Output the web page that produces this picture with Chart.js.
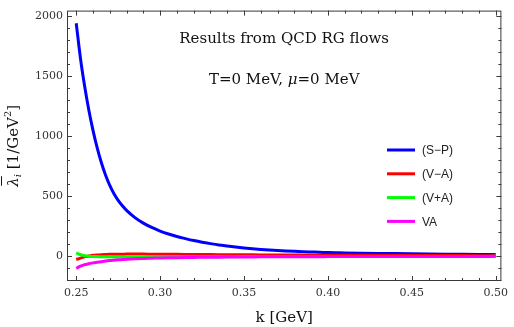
<!DOCTYPE html>
<html>
<head>
<meta charset="utf-8">
<script src="https://cdn.jsdelivr.net/npm/chart.js@4/dist/chart.umd.min.js"></script>
<style>
  html, body { margin: 0; padding: 0; background: #fff; }
  #wrap { width: 514px; height: 327px; }
</style>
</head>
<body>
<div id="wrap"><canvas id="chart-area"></canvas></div>
<script>
// k values [GeV]
var kValues = [0.250, 0.2525, 0.255, 0.2575, 0.260, 0.2625, 0.265, 0.2675, 0.270, 0.2725,
               0.275, 0.2775, 0.280, 0.285, 0.290, 0.295, 0.300, 0.305, 0.310, 0.315,
               0.320, 0.325, 0.330, 0.335, 0.340, 0.345, 0.350, 0.355, 0.360, 0.365,
               0.370, 0.375, 0.380, 0.385, 0.390, 0.395, 0.400,
               0.41, 0.42, 0.43, 0.44, 0.45, 0.46, 0.47, 0.48, 0.49, 0.50];
// (S-P)
var spValues = [1940, 1651, 1417, 1218, 1048, 902, 778, 675, 590, 520,
                465, 420, 382, 322, 276, 240, 210, 185, 164, 147,
                131, 117, 105, 94, 85, 76.5, 69, 62.5, 57, 52,
                47.7, 44, 40.8, 38, 35.7, 33.6, 30.5,
                28, 25.8, 23.8, 22, 20.3, 18.8, 17.4, 16.1, 15, 14];
// (V-A)
var vmaValues = [-27, -15, -5, 2, 8, 11, 13, 14.5, 16, 16.5,
                 17, 17.5, 18, 18, 18, 17.5, 17, 16.5, 16, 15.5,
                 15, 14.5, 14, 13.5, 13, 12.5, 12, 11.5, 11, 10.7,
                 10.4, 10, 9.7, 9.4, 9.1, 8.8, 8.5,
                 8, 7.5, 7, 6.6, 6.2, 5.9, 5.6, 5.3, 5, 4.8];
// (V+A)
var vpaValues = [27, 14, 5, 1, -2, -3, -4, -4.5, -5, -5.2,
                 -5.5, -5.5, -5.5, -5.5, -5.3, -5.1, -5, -4.8, -4.6, -4.4,
                 -4.2, -4, -3.8, -3.6, -3.4, -3.2, -3, -2.9, -2.8, -2.7,
                 -2.6, -2.5, -2.4, -2.3, -2.2, -2.1, -2,
                 -1.9, -1.8, -1.7, -1.6, -1.5, -1.4, -1.3, -1.2, -1.1, -1];
// VA
var vaValues = [-100, -83, -70, -62, -55, -50, -45, -40, -36, -33,
                -30, -27.5, -25, -21, -18, -16, -14, -12.5, -11.5, -10.5,
                -9.5, -9, -8, -7.5, -7, -6.5, -6, -5.5, -5, -4.8,
                -4.5, -4.2, -4, -3.7, -3.5, -3.3, -3,
                -2.7, -2.4, -2.2, -2, -1.8, -1.6, -1.5, -1.3, -1.2, -1];

var seriesLabels = ["(S\u2212P)", "(V\u2212A)", "(V+A)", "VA"];
var seriesColors = ["rgb(0,0,255)", "rgb(255,0,0)", "rgb(0,255,0)", "rgb(255,0,255)"];
var seriesValues = [spValues, vmaValues, vpaValues, vaValues];

var xTicks = [0.25, 0.30, 0.35, 0.40, 0.45, 0.50];
var yTicks = [0, 500, 1000, 1500, 2000];

var serif = '"DejaVu Serif", serif';
var sans = '"Liberation Sans", Arial, sans-serif';

var arr = [];
for (var s = 0; s < seriesValues.length; s++) {
  var pts = [];
  for (var i = 0; i < kValues.length; i++) {
    pts.push({x: kValues[i], y: seriesValues[s][i]});
  }
  arr.push({
    label: seriesLabels[s],
    data: pts,
    borderColor: seriesColors[s],
    backgroundColor: seriesColors[s],
    borderWidth: 3,
    pointRadius: 0,
    cubicInterpolationMode: 'monotone',
    order: seriesValues.length - s
  });
}

// 外框、刻度、文字
var framePlugin = {
  id: 'frame',
  afterDatasetsDraw: function(chart) {
    var c = chart.ctx;
    var a = chart.chartArea;
    var xs = chart.scales.x, ys = chart.scales.y;
    c.save();
    c.strokeStyle = '#3a3a3a';
    c.lineWidth = 1;
    c.strokeRect(a.left + 0.5, a.top + 0.5, a.right - a.left - 1, a.bottom - a.top - 1);
    c.beginPath();
    // x ticks (minor every 0.01)
    for (var m = 25; m <= 50; m++) {
      var px = Math.round(xs.getPixelForValue(m / 100)) + 0.5;
      var len = (m % 5 === 0) ? 5 : 3;
      c.moveTo(px, a.bottom); c.lineTo(px, a.bottom - len);
      c.moveTo(px, a.top); c.lineTo(px, a.top + len);
    }
    // y ticks (minor every 100)
    for (var v = -200; v <= 2000; v += 100) {
      var py = Math.round(ys.getPixelForValue(v)) + 0.5;
      var l2 = (v % 500 === 0) ? 5 : 3;
      c.moveTo(a.left, py); c.lineTo(a.left + l2, py);
      c.moveTo(a.right, py); c.lineTo(a.right - l2, py);
    }
    c.stroke();

    // legend
    c.font = '12px ' + sans;
    c.textBaseline = 'middle';
    c.textAlign = 'left';
    for (var s = 0; s < seriesLabels.length; s++) {
      var ly = 150 + s * 23.8;
      c.strokeStyle = seriesColors[s];
      c.lineWidth = 3;
      c.beginPath(); c.moveTo(387, ly); c.lineTo(415, ly); c.stroke();
      c.fillStyle = '#222';
      c.fillText(seriesLabels[s], 422, ly + 1);
    }

    // title inside plot
    var cx = (a.left + a.right) / 2;
    c.fillStyle = '#111';
    c.textAlign = 'center';
    c.font = '15px ' + serif;
    c.fillText('Results from QCD RG flows', cx, 39);
    // line 2 with italic mu
    var p1 = 'T=0 MeV, ', p2 = '\u03bc', p3 = '=0 MeV';
    var fN = '15px ' + serif, fI = 'italic 15px ' + serif;
    c.font = fN; var w1 = c.measureText(p1).width, w3 = c.measureText(p3).width;
    c.font = fI; var w2 = c.measureText(p2).width;
    var x0 = cx - (w1 + w2 + w3) / 2;
    c.textAlign = 'left';
    c.font = fN; c.fillText(p1, x0, 80);
    c.font = fI; c.fillText(p2, x0 + w1, 80);
    c.font = fN; c.fillText(p3, x0 + w1 + w2, 80);

    // x axis title
    c.textAlign = 'center';
    c.font = '15px ' + serif;
    c.fillText('k [GeV]', cx, 318);

    // y axis title, rotated
    var cy = (a.top + a.bottom) / 2;
    c.translate(14, cy);
    c.rotate(-Math.PI / 2);
    c.textAlign = 'left';
    var fL = 'italic 15px ' + serif, fS = 'italic 10px ' + serif, fB = '15px ' + serif, fSup = '10px ' + serif;
    c.font = fL; var wl = c.measureText('\u03bb').width;
    c.font = fS; var wi = c.measureText('i').width;
    c.font = fB; var wb = c.measureText(' [1/GeV').width, wc = c.measureText(']').width;
    c.font = fSup; var w2s = c.measureText('2').width;
    var tot = wl + wi + wb + w2s + wc;
    var x = -tot / 2;
    c.font = fL; c.fillText('\u03bb', x, 0);
    c.strokeStyle = '#111'; c.lineWidth = 1;
    c.beginPath(); c.moveTo(x + 1, -12.5); c.lineTo(x + wl + 1, -12.5); c.stroke();
    x += wl;
    c.font = fS; c.fillText('i', x, 4); x += wi;
    c.font = fB; c.fillText(' [1/GeV', x, 0); x += wb;
    c.font = fSup; c.fillText('2', x, -6); x += w2s;
    c.font = fB; c.fillText(']', x, 0);
    c.restore();
  }
};

var ctx = document.getElementById("chart-area");
var myChart = new Chart(ctx, {
  type: "line",
  data: { datasets: arr },
  options: {
    responsive: true,
    maintainAspectRatio: false,
    animation: false,
    layout: { padding: { top: 8, right: 6, left: 0, bottom: 0 } },
    plugins: { legend: { display: false }, tooltip: { enabled: false } },
    scales: {
      x: {
        type: 'linear',
        min: 0.2445,
        max: 0.5034,
        grid: { display: false, drawTicks: false },
        border: { display: false },
        afterFit: function(scale) { scale.height = 46; },
        afterBuildTicks: function(scale) {
          scale.ticks = xTicks.map(function(v) { return {value: v}; });
        },
        ticks: {
          padding: 6,
          color: '#333',
          font: { family: serif, size: 11 },
          maxRotation: 0,
          callback: function(v) { return Number(v).toFixed(2); }
        }
      },
      y: {
        min: -206,
        max: 2045,
        grid: { display: false, drawTicks: false },
        border: { display: false },
        afterFit: function(scale) { scale.width = 67; },
        afterBuildTicks: function(scale) {
          scale.ticks = yTicks.map(function(v) { return {value: v}; });
        },
        ticks: {
          padding: 4,
          color: '#333',
          font: { family: serif, size: 11 },
          callback: function(v) { return String(v); }
        }
      }
    }
  },
  plugins: [framePlugin]
});
</script>
</body>
</html>
